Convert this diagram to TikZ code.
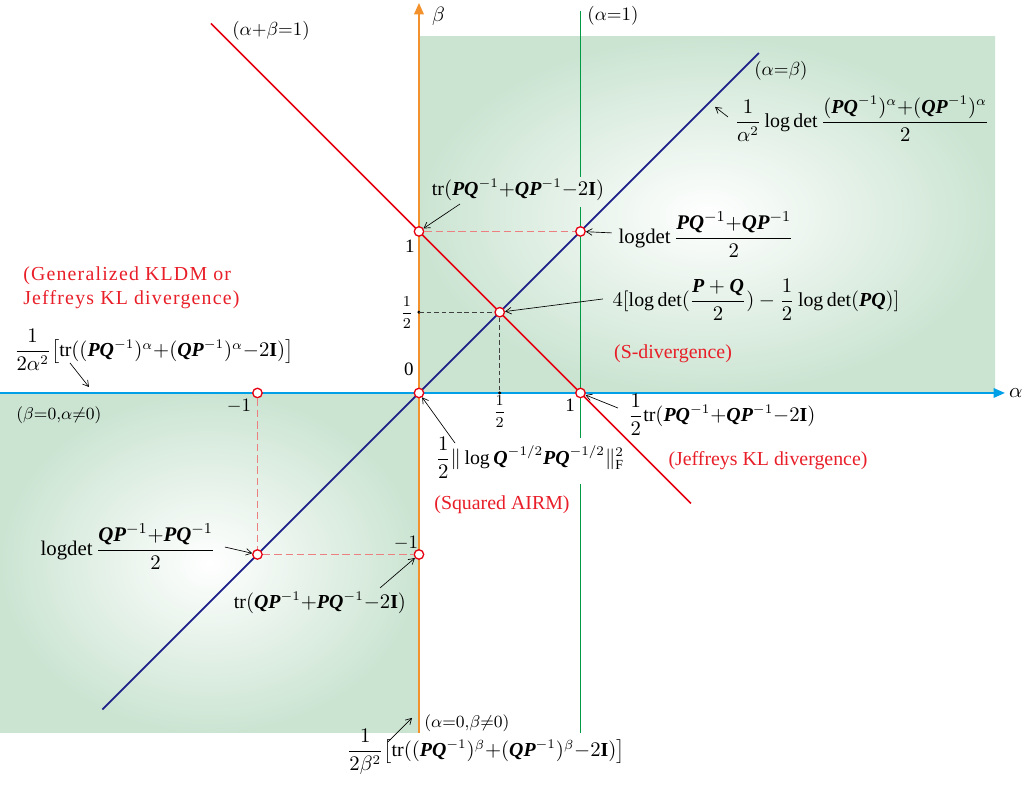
\documentclass[tikz,border=0pt]{standalone}
\usepackage{amsmath,amssymb}
\usepackage{fontspec}
\setmainfont{Liberation Serif}
\usepackage{xcolor}
\usepackage{tikz}
\usetikzlibrary{arrows.meta,positioning,calc}
\definecolor{axo}{RGB}{243,146,45}
\definecolor{axb}{RGB}{0,160,233}
\definecolor{lng}{RGB}{0,153,68}
\definecolor{lnr}{RGB}{230,0,18}
\definecolor{lnb}{RGB}{29,32,136}
\definecolor{dsh}{RGB}{236,128,128}
\definecolor{txr}{RGB}{232,30,40}
\definecolor{shg}{RGB}{203,228,210}
\newcommand{\mb}[1]{\text{\bfseries\itshape #1}}

\begin{document}
\begin{tikzpicture}[x=3cm,y=3cm,
  pt/.style={circle,draw=lnr,fill=white,line width=0.7pt,inner sep=0pt,minimum size=5pt},
  fm/.style={font=\fontsize{10.5}{12}\selectfont,inner sep=1pt},
  rd/.style={font=\fontsize{10.5}{12.5}\selectfont,text=txr,inner sep=1pt},
  sm/.style={font=\small,inner sep=1pt},
  tk/.style={font=\fontsize{10}{12}\selectfont,inner sep=1pt},
  ax/.style={line width=1pt,-{Triangle[length=6pt,width=5pt]}},
  ln/.style={line width=0.9pt},
  ds/.style={dsh,line width=0.6pt,dash pattern=on 4pt off 2pt},
  dk/.style={black!75,line width=0.45pt,dash pattern=on 2.5pt off 1.5pt},
  ar/.style={-{Straight Barb[length=3pt,width=3.5pt]},line width=0.35pt}]
\useasboundingbox (-2.594,-2.446) rectangle (3.746,2.433);
\shade[inner color=white,outer color=shg] (0,0) rectangle (3.567,2.204);
\shade[inner color=white,outer color=shg] (-2.594,-2.105) rectangle (0,0);
\draw[lng,ln] (1,2.365) -- (1,1.337) (1,1.152) -- (1,-0.279) (1,-0.563) -- (1,-2.105);
\coordinate (xa) at (-2.594,0);
\coordinate (xb) at (3.628,0);
\coordinate (ya) at (0,-2.105);
\coordinate (yb) at (0,2.415);
\draw[axb,ax] (xa) -- (xb);
\draw[axo,ax] (ya) -- (yb);
\node[font=\fontsize{11}{12}\selectfont,inner sep=0pt,right=2pt of xb] (al) {$\alpha$};
\node[font=\fontsize{11}{12}\selectfont,anchor=west] (be) at (0.04,2.334) {$\beta$};
\draw[lnr,ln] (-1.288,2.288) -- (1.684,-0.684);
\draw[lnb,ln] (-1.96,-1.96) -- (2.105,2.105);
\node[tk] (l1) at (-0.916,2.241) {$(\alpha{+}\beta{=}1)$};
\node[tk] (l2) at (1.201,2.334) {$(\alpha{=}1)$};
\node[tk] (l3) at (2.241,1.994) {$(\alpha{=}\beta)$};
\coordinate (yh) at (0,0.5);
\coordinate (xh) at (0.5,0);
\fill (yh) circle (0.9pt) (xh) circle (0.9pt);
\node[pt] (p01) at (0,1) {};
\node[pt] (p11) at (1,1) {};
\node[pt] (phh) at (0.5,0.5) {};
\node[pt] (p00) at (0,0) {};
\node[pt] (p10) at (1,0) {};
\node[pt] (pm0) at (-1,0) {};
\node[pt] (pmm) at (-1,-1) {};
\node[pt] (p0m) at (0,-1) {};
\draw[ds] (p01) -- (p11);
\draw[ds] (pm0) -- (pmm) -- (p0m);
\draw[dk] (yh) -- (phh) -- (xh);
\node[tk] (t1) at (-0.056,0.910) {1};
\node[tk,font=\footnotesize] (t2) at (-0.074,0.495) {$\dfrac{1}{2}$};
\node[tk] (t3) at (-0.062,0.149) {0};
\node[tk,font=\footnotesize] (t4) at (0.5,-0.118) {$\dfrac{1}{2}$};
\node[tk] (t5) at (0.935,-0.074) {1};
\node[tk] (t6) at (-1.115,-0.080) {$-1$};
\node[tk] (t7) at (-0.08,-0.929) {$-1$};
\node[fm] (a) at (0.613,1.257) {$\mathrm{tr}(\mb{PQ}^{-1}{+}\mb{QP}^{-1}{-}2\mathbf{I})$};
\node[fm,font=\fontsize{11}{12}\selectfont] (ld1) at (1.777,0.978) {$\mathrm{logdet}\,\dfrac{\mb{PQ}^{-1}{+}\mb{QP}^{-1}}{2}$};
\node[fm] (sdiv) at (2.087,0.576) {$4[\log\det(\dfrac{\mb{P}+\mb{Q}}{2})-\dfrac{1}{2}\log\det(\mb{PQ})]$};
\node[rd] (sd) at (1.573,0.241) {(S-divergence)};
\node[fm] (afm) at (2.743,1.697) {$\dfrac{1}{\alpha^2}\log\det\dfrac{(\mb{PQ}^{-1})^{\alpha}{+}(\mb{QP}^{-1})^{\alpha}}{2}$};
\node[rd,align=left,anchor=west,font=\fontsize{10.5}{12.5}\selectfont\addfontfeature{LetterSpace=6}] (gen) at (-2.464,0.650) {(Generalized KLDM or\\Jeffreys KL divergence)};
\node[fm] (alf) at (-1.641,0.266) {$\dfrac{1}{2\alpha^2}\bigl[\mathrm{tr}((\mb{PQ}^{-1})^{\alpha}{+}(\mb{QP}^{-1})^{\alpha}{-}2\mathbf{I})\bigr]$};
\node[sm] (b0) at (-2.229,-0.136) {$(\beta{=}0{,}\alpha{\neq}0)$};
\node[fm] (nrm) at (0.687,-0.402) {$\dfrac{1}{2}\|\log\mb{Q}^{-1/2}\mb{PQ}^{-1/2}\|_{\mathrm{F}}^{2}$};
\node[rd] (sq) at (0.514,-0.693) {(Squared AIRM)};
\node[fm] (htr) at (1.876,-0.136) {$\dfrac{1}{2}\mathrm{tr}(\mb{PQ}^{-1}{+}\mb{QP}^{-1}{-}2\mathbf{I})$};
\node[rd] (jkl) at (2.161,-0.421) {(Jeffreys KL divergence)};
\node[fm,font=\fontsize{11}{12}\selectfont] (ld2) at (-1.802,-0.954) {$\mathrm{logdet}\,\dfrac{\mb{QP}^{-1}{+}\mb{PQ}^{-1}}{2}$};
\node[fm] (trb) at (-0.613,-1.300) {$\mathrm{tr}(\mb{QP}^{-1}{+}\mb{PQ}^{-1}{-}2\mathbf{I})$};
\node[sm] (a0) at (0.297,-2.043) {$(\alpha{=}0{,}\beta{\neq}0)$};
\node[fm] (bfm) at (0.415,-2.223) {$\dfrac{1}{2\beta^2}\bigl[\mathrm{tr}((\mb{PQ}^{-1})^{\beta}{+}(\mb{QP}^{-1})^{\beta}{-}2\mathbf{I})\bigr]$};
\coordinate (ta) at (0.254,1.170);
\coordinate (tld1) at (1.195,0.991);
\coordinate (tsd) at (1.139,0.582);
\coordinate (taf) at (1.913,1.709);
\coordinate (haf) at (1.833,1.771);
\coordinate (tal) at (-2.161,0.186);
\coordinate (hal) at (-2.043,0.037);
\coordinate (tnr) at (0.223,-0.310);
\coordinate (tht) at (1.232,-0.093);
\coordinate (tld2) at (-1.201,-0.954);
\coordinate (ttb) at (-0.241,-1.207);
\coordinate (tbf) at (-0.192,-2.161);
\coordinate (hbf) at (-0.043,-2.012);
\draw[ar] (ta) -- (p01);
\draw[ar] (tld1) -- (p11);
\draw[ar] (tsd) -- (phh);
\draw[ar] (taf) -- (haf);
\draw[ar] (tal) -- (hal);
\draw[ar] (tnr) -- (p00);
\draw[ar] (tht) -- (p10);
\draw[ar] (tld2) -- (pmm);
\draw[ar] (ttb) -- (p0m);
\draw[ar] (tbf) -- (hbf);
\end{tikzpicture}
\end{document}
